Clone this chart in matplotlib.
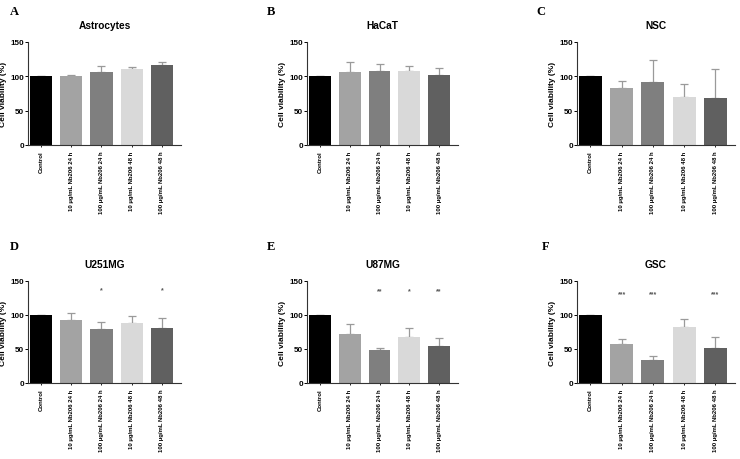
#!/usr/bin/env python3
"""Cell viability panels (A-F) after Nb206 treatment."""

import matplotlib

matplotlib.use("Agg")
import matplotlib.pyplot as plt

plt.rcParams["font.family"] = ["Liberation Sans", "DejaVu Sans"]

CATEGORIES = [
    "Control",
    "10 µg/mL Nb206 24 h",
    "100 µg/mL Nb206 24 h",
    "10 µg/mL Nb206 48 h",
    "100 µg/mL Nb206 48 h",
]
BAR_COLORS = ["#000000", "#a3a3a3", "#7f7f7f", "#d9d9d9", "#606060"]

PANEL_LETTERS = ["A", "B", "C", "D", "E", "F"]
CELL_LINES = ["Astrocytes", "HaCaT", "NSC", "U251MG", "U87MG", "GSC"]

MEANS = [
    [100, 100, 107, 110, 116],
    [100, 106.5, 107.5, 107.5, 102.5],
    [100, 83, 92, 69.5, 68],
    [100, 93, 80, 88, 81],
    [100, 72.5, 48, 68, 54],
    [100, 58, 34.5, 83, 52],
]
# upper error (SD) above each bar
ERRORS = [
    [0, 2, 8.5, 3, 4.5],
    [0, 14.5, 10.5, 7.5, 9.5],
    [0, 10, 32, 19.5, 43],
    [0, 9.5, 9, 10, 14],
    [0, 14.5, 4, 13, 12],
    [0, 7, 5.5, 11, 16],
]
STARS = [
    ["", "", "", "", ""],
    ["", "", "", "", ""],
    ["", "", "", "", ""],
    ["", "", "*", "", "*"],
    ["", "", "**", "*", "**"],
    ["", "***", "***", "", "***"],
]
STAR_Y = [0, 0, 0, 137, 136, 132]

W, H = 740, 460

# axes boxes in pixels: left, top, right, bottom
AX_BOXES = [
    (28, 43, 181, 146),
    (307, 43, 458, 146),
    (577, 43, 735, 146),
    (28, 282, 181, 384),
    (307, 282, 458, 384),
    (577, 282, 735, 384),
]
LETTER_POS = [(10, 12), (267, 12), (536, 12), (10, 247), (267, 247), (542, 247)]


def px_axes(fig, box):
    left, top, right, bottom = box
    return fig.add_axes([left / W, 1 - bottom / H, (right - left) / W, (bottom - top) / H])


def main() -> None:
    fig = plt.figure(figsize=(W / 100, H / 100), dpi=100)

    for i in range(6):
        ax = px_axes(fig, AX_BOXES[i])
        x = list(range(len(CATEGORIES)))
        ax.bar(x, MEANS[i], width=0.73, color=BAR_COLORS, zorder=2)
        lower = [0] * len(x)
        ax.errorbar(
            x, MEANS[i], yerr=[lower, ERRORS[i]], fmt="none",
            ecolor="#9a9a9a", elinewidth=0.9, capsize=3, capthick=0.9, zorder=1,
        )
        for xi, s in zip(x, STARS[i]):
            if s:
                ax.text(xi, STAR_Y[i], s, ha="center", va="center",
                        fontsize=5, color="#555555", fontweight="bold")

        ax.set_xlim(-0.43, 4.63)
        ax.set_ylim(0, 150)
        ax.set_yticks([0, 50, 100, 150])
        ax.set_xticks(x)
        ax.set_xticklabels(CATEGORIES, rotation=90, fontsize=4.3, fontweight="bold")
        ax.tick_params(axis="y", labelsize=5.8, length=2, width=0.7, pad=1)
        ax.tick_params(axis="x", length=1.5, width=0.6, pad=2.5)
        for lab in ax.get_yticklabels():
            lab.set_fontweight("bold")
        ax.spines["top"].set_visible(False)
        ax.spines["right"].set_visible(False)
        ax.spines["left"].set_linewidth(0.8)
        ax.spines["bottom"].set_linewidth(0.8)
        ax.spines["left"].set_color("#333333")
        ax.spines["bottom"].set_color("#333333")
        ax.set_ylabel("Cell viability (%)", fontsize=6, fontweight="bold", labelpad=2)
        ax.set_title(CELL_LINES[i], fontsize=7.3, fontweight="bold", pad=10)

        lx, ly = LETTER_POS[i]
        fig.text(lx / W, 1 - ly / H, PANEL_LETTERS[i], fontsize=9, fontweight="bold",
                 family=["Liberation Serif", "DejaVu Serif"], ha="left", va="center")

    fig.savefig("out.png", dpi=100)
    plt.close(fig)


if __name__ == "__main__":
    main()
